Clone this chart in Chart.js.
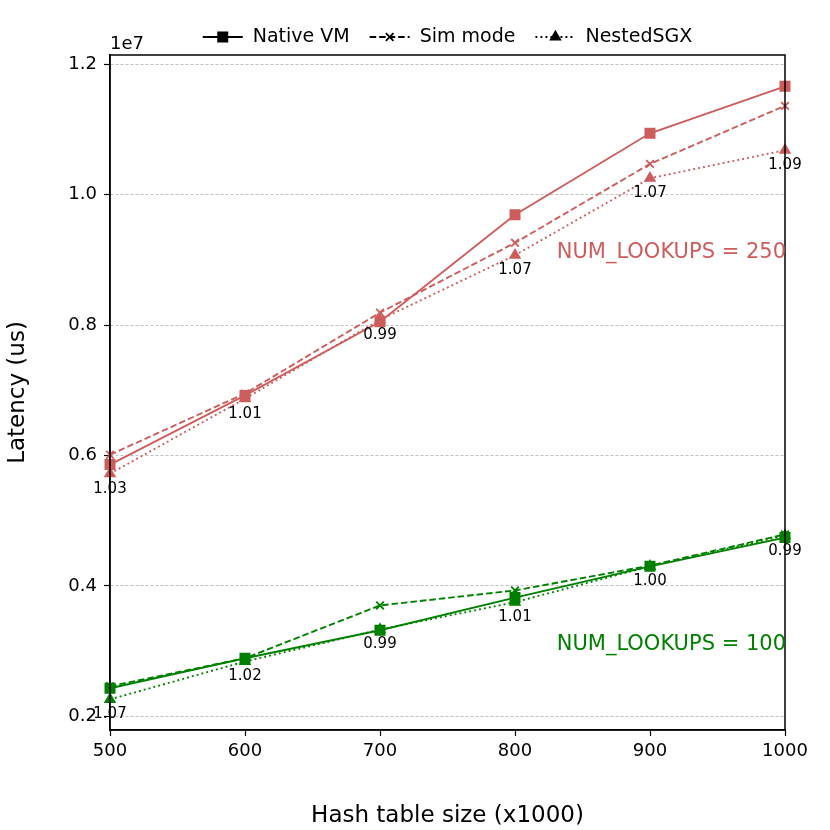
<!DOCTYPE html>
<html>
<head>
<meta charset="utf-8">
<script src="https://cdn.jsdelivr.net/npm/chart.js@4.4.0/dist/chart.umd.min.js"></script>
<style>
  html, body { margin: 0; padding: 0; background: #fff; }
  #wrap { width: 830px; height: 830px; }
</style>
</head>
<body>
<div id="wrap"><canvas id="chart" width="830" height="830"></canvas></div>
<script>
// ---------- data ----------
const sizes = [500, 600, 700, 800, 900, 1000];

// NUM_LOOKUPS = 250
const native250 = [5.86e6, 6.92e6, 8.05e6, 9.69e6, 10.94e6, 11.66e6];
const sim250    = [6.01e6, 6.95e6, 8.19e6, 9.26e6, 10.47e6, 11.36e6];
const nested250 = [5.72e6, 6.87e6, 8.08e6, 9.07e6, 10.25e6, 10.68e6];
const ratio250  = ['1.03', '1.01', '0.99', '1.07', '1.07', '1.09'];

// NUM_LOOKUPS = 100
const native100 = [2.43e6, 2.89e6, 3.32e6, 3.82e6, 4.30e6, 4.74e6];
const sim100    = [2.46e6, 2.89e6, 3.70e6, 3.93e6, 4.31e6, 4.79e6];
const nested100 = [2.26e6, 2.84e6, 3.33e6, 3.75e6, 4.30e6, 4.77e6];
const ratio100  = ['1.07', '1.02', '0.99', '1.01', '1.00', '0.99'];

const yTicks = [2e6, 4e6, 6e6, 8e6, 10e6, 12e6];
const legendNames = ['Native VM', 'Sim mode', 'NestedSGX'];

const RED = '#cd5c5c';
const GREEN = '#008000';
const FONT = "'DejaVu Sans', sans-serif";

const styles = {
  native: { pointStyle: 'rect', radius: 6.5, dash: [] },
  sim:    { pointStyle: 'crossRot', radius: 5.4, dash: [6.5, 3] },
  nested: { pointStyle: 'triangle', radius: 5.4, dash: [1.9, 3.1] }
};
const kinds = ['native', 'sim', 'nested'];

function series(values, color, kind) {
  const s = styles[kind];
  return {
    data: values.map((v, i) => ({ x: sizes[i], y: v })),
    borderColor: color,
    backgroundColor: color,
    pointBackgroundColor: color,
    pointBorderColor: color,
    borderWidth: 1.9,
    borderDash: s.dash,
    pointStyle: s.pointStyle,
    pointRadius: s.radius,
    pointBorderWidth: 1.8,
    tension: 0,
    clip: false
  };
}

const datasets = [
  series(native250, RED, 'native'),
  series(sim250, RED, 'sim'),
  series(nested250, RED, 'nested'),
  series(native100, GREEN, 'native'),
  series(sim100, GREEN, 'sim'),
  series(nested100, GREEN, 'nested')
];

// ---------- extras drawn on top ----------
const extras = {
  id: 'extras',
  afterDatasetsDraw(chart) {
    const { ctx, chartArea: a, scales } = chart;
    ctx.save();

    // box (top/right spines)
    ctx.strokeStyle = '#000';
    ctx.lineWidth = 1.5;
    ctx.setLineDash([]);
    ctx.strokeRect(a.left, a.top, a.right - a.left, a.bottom - a.top);

    // ratio labels below NestedSGX points
    ctx.fillStyle = '#000';
    ctx.font = '15px ' + FONT;
    ctx.textAlign = 'center';
    ctx.textBaseline = 'middle';
    [[2, ratio250], [5, ratio100]].forEach(([di, labels]) => {
      chart.getDatasetMeta(di).data.forEach((pt, i) => {
        ctx.fillText(labels[i], pt.x, pt.y + 15);
      });
    });

    // group annotations
    ctx.font = '21px ' + FONT;
    ctx.textAlign = 'right';
    ctx.fillStyle = RED;
    ctx.fillText('NUM_LOOKUPS = 250', a.right + 1, scales.y.getPixelForValue(9.11e6));
    ctx.fillStyle = GREEN;
    ctx.fillText('NUM_LOOKUPS = 100', a.right + 1, scales.y.getPixelForValue(3.10e6));

    // offset text
    ctx.fillStyle = '#000';
    ctx.font = '18px ' + FONT;
    ctx.textAlign = 'left';
    ctx.textBaseline = 'alphabetic';
    ctx.fillText('1e7', a.left, a.top - 6);

    // legend
    const ly = 37;
    ctx.font = '19px ' + FONT;
    ctx.textBaseline = 'middle';
    const widths = legendNames.map(n => ctx.measureText(n).width);
    const total = widths.reduce((s, w) => s + w, 0) + 3 * 50 + 2 * 20;
    let x = (a.left + a.right) / 2 - total / 2;
    legendNames.forEach((name, i) => {
      const s = styles[kinds[i]];
      ctx.strokeStyle = '#000';
      ctx.lineWidth = 1.9;
      ctx.setLineDash(s.dash);
      ctx.beginPath();
      ctx.moveTo(x, ly);
      ctx.lineTo(x + 40, ly);
      ctx.stroke();
      ctx.setLineDash([]);
      ctx.lineWidth = 1.8;
      Chart.helpers.drawPoint(ctx, {
        pointStyle: s.pointStyle, radius: s.radius, borderWidth: 1.8, rotation: 0
      }, x + 20, ly);
      ctx.fillStyle = '#000';
      ctx.fill();
      ctx.fillText(name, x + 50, ly);
      x += 50 + widths[i] + 20;
    });

    ctx.restore();
  }
};

new Chart(document.getElementById('chart'), {
  type: 'line',
  data: { datasets },
  plugins: [extras],
  options: {
    responsive: false,
    animation: false,
    devicePixelRatio: 1,
    layout: { padding: { left: 0, right: 45, top: 55, bottom: 0 } },
    plugins: { legend: { display: false }, tooltip: { enabled: false } },
    scales: {
      x: {
        type: 'linear',
        min: 500, max: 1000,
        afterFit(s) { s.height = 100; },
        ticks: {
          stepSize: 100, color: '#000', font: { family: FONT, size: 18 }, padding: 5, maxRotation: 0,
          callback: v => String(v)
        },
        grid: { drawOnChartArea: false, drawTicks: true, tickLength: 6, tickColor: '#000', tickWidth: 1.2 },
        border: { color: '#000', width: 1.5 },
        title: { display: true, text: 'Hash table size (x1000)', color: '#000', font: { family: FONT, size: 23 }, padding: { top: 0, bottom: 0 } }
      },
      y: {
        type: 'linear',
        min: 1.79e6, max: 12.14e6,
        afterFit(s) { s.width = 110; },
        afterBuildTicks(s) { s.ticks = yTicks.map(v => ({ value: v })); },
        ticks: {
          color: '#000', font: { family: FONT, size: 18 }, padding: 7,
          callback: v => (v / 1e7).toFixed(1)
        },
        grid: {
          color: '#b0b0b0', lineWidth: 0.8,
          tickLength: 6, tickColor: '#000', tickWidth: 1.2, tickBorderDash: []
        },
        border: { color: '#000', width: 1.5, dash: [3, 2] },
        title: { display: true, text: 'Latency (us)', color: '#000', font: { family: FONT, size: 23 }, padding: { top: 4, bottom: 0 } }
      }
    }
  }
});
</script>
</body>
</html>
